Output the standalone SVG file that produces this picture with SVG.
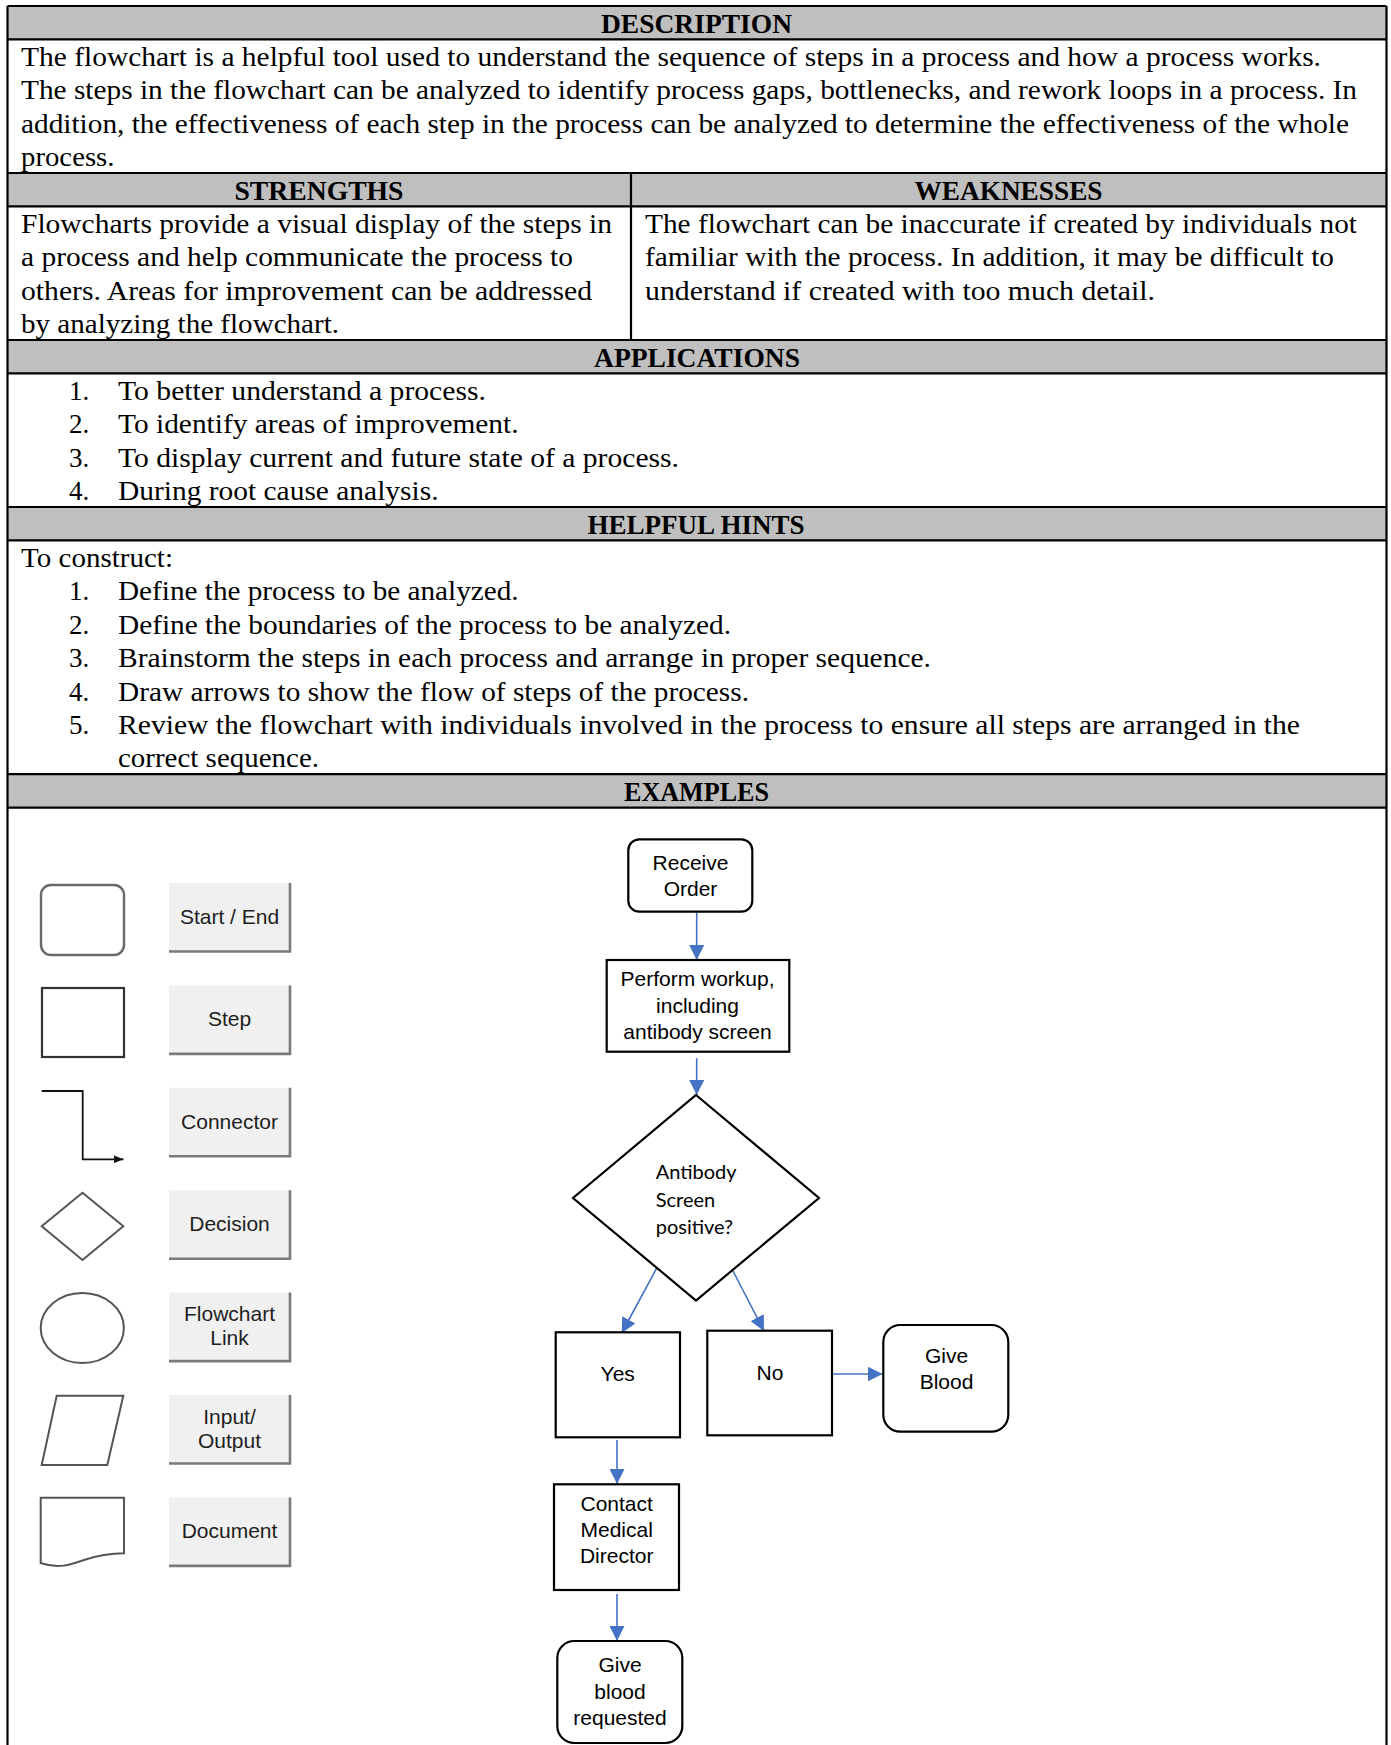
<svg xmlns="http://www.w3.org/2000/svg" width="1391" height="1745" viewBox="0 0 1391 1745">
<style>
.hdr{fill:#BFBFBF}
.ln{stroke:#000;stroke-width:2.2;fill:none}
.b{font-family:"Liberation Serif","Times New Roman",serif;font-size:27px;fill:#000}
.h{font-family:"Liberation Serif","Times New Roman",serif;font-size:27px;font-weight:bold;text-anchor:middle;fill:#000}
.fc{font-family:"Liberation Sans",Arial,sans-serif;font-size:21px;text-anchor:middle;fill:#000}
.dt{font-family:Lato,"Open Sans",sans-serif;font-size:20px;fill:#000}
.lg{font-family:"Liberation Sans",Arial,sans-serif;font-size:21px;text-anchor:middle;fill:#1e1e1e}
.node{fill:#fff;stroke:#000;stroke-width:2.2}
.conn{stroke:#4472C4;stroke-width:1.6;fill:none;marker-end:url(#ah)}
.btn{fill:#F0F0F0}
.btnsh{fill:none;stroke:#7A7A7A;stroke-width:2.6}
.sym{fill:#fff;stroke:#555;stroke-width:2}
</style>
<defs>
<marker id="ah" viewBox="0 0 15 15" refX="15" refY="7.5" markerWidth="15" markerHeight="15" markerUnits="userSpaceOnUse" orient="auto"><path d="M0,0 L15,7.5 L0,15 z" fill="#4472C4"/></marker>
<marker id="ahk" viewBox="0 0 10 8" refX="10" refY="4" markerWidth="10" markerHeight="8" markerUnits="userSpaceOnUse" orient="auto"><path d="M0,0 L10,4 L0,8 z" fill="#111"/></marker>
</defs>
<rect x="0" y="0" width="1391" height="1745" fill="#fff"/>

<g id="table">
<rect class="hdr" x="7.5" y="6" width="1379" height="33.4"/>
<rect class="hdr" x="7.5" y="173" width="1379" height="33.4"/>
<rect class="hdr" x="7.5" y="340" width="1379" height="33.4"/>
<rect class="hdr" x="7.5" y="507" width="1379" height="33.4"/>
<rect class="hdr" x="7.5" y="774.2" width="1379" height="33.4"/>
<path class="ln" d="M7.5,6 H1386.5 M7.5,39.4 H1386.5 M7.5,173 H1386.5 M7.5,206.4 H1386.5 M7.5,340 H1386.5 M7.5,373.4 H1386.5 M7.5,507 H1386.5 M7.5,540.4 H1386.5 M7.5,774.2 H1386.5 M7.5,807.6 H1386.5 M7.5,6 V1745 M1386.5,6 V1745 M631,173 V340"/>
</g>

<g id="description">
<text class="h" x="696.5" y="32.5" textLength="191" lengthAdjust="spacingAndGlyphs">DESCRIPTION</text>
<text class="b" x="21" y="65.9" textLength="1300" lengthAdjust="spacingAndGlyphs">The flowchart is a helpful tool used to understand the sequence of steps in a process and how a process works.</text>
<text class="b" x="21" y="99.3" textLength="1336" lengthAdjust="spacingAndGlyphs">The steps in the flowchart can be analyzed to identify process gaps, bottlenecks, and rework loops in a process. In</text>
<text class="b" x="21" y="132.7" textLength="1328" lengthAdjust="spacingAndGlyphs">addition, the effectiveness of each step in the process can be analyzed to determine the effectiveness of the whole</text>
<text class="b" x="21" y="166.1" textLength="93.5" lengthAdjust="spacingAndGlyphs">process.</text>
</g>

<g id="strengths">
<text class="h" x="319" y="199.5" textLength="169" lengthAdjust="spacingAndGlyphs">STRENGTHS</text>
<text class="b" x="21" y="232.9" textLength="591" lengthAdjust="spacingAndGlyphs">Flowcharts provide a visual display of the steps in</text>
<text class="b" x="21" y="266.3" textLength="552" lengthAdjust="spacingAndGlyphs">a process and help communicate the process to</text>
<text class="b" x="21" y="299.7" textLength="571" lengthAdjust="spacingAndGlyphs">others. Areas for improvement can be addressed</text>
<text class="b" x="21" y="333.1" textLength="318" lengthAdjust="spacingAndGlyphs">by analyzing the flowchart.</text>
</g>

<g id="weaknesses">
<text class="h" x="1008.5" y="199.5" textLength="188" lengthAdjust="spacingAndGlyphs">WEAKNESSES</text>
<text class="b" x="645" y="232.9" textLength="712" lengthAdjust="spacingAndGlyphs">The flowchart can be inaccurate if created by individuals not</text>
<text class="b" x="645" y="266.3" textLength="689" lengthAdjust="spacingAndGlyphs">familiar with the process. In addition, it may be difficult to</text>
<text class="b" x="645" y="299.7" textLength="510" lengthAdjust="spacingAndGlyphs">understand if created with too much detail.</text>
</g>

<g id="applications">
<text class="h" x="697" y="366.5" textLength="206" lengthAdjust="spacingAndGlyphs">APPLICATIONS</text>
<text class="b" x="69" y="399.9">1.</text>
<text class="b" x="118" y="399.9" textLength="368" lengthAdjust="spacingAndGlyphs">To better understand a process.</text>
<text class="b" x="69" y="433.3">2.</text>
<text class="b" x="118" y="433.3" textLength="400.6" lengthAdjust="spacingAndGlyphs">To identify areas of improvement.</text>
<text class="b" x="69" y="466.7">3.</text>
<text class="b" x="118" y="466.7" textLength="561" lengthAdjust="spacingAndGlyphs">To display current and future state of a process.</text>
<text class="b" x="69" y="500.1">4.</text>
<text class="b" x="118" y="500.1" textLength="320.5" lengthAdjust="spacingAndGlyphs">During root cause analysis.</text>
</g>

<g id="hints">
<text class="h" x="696" y="533.5" textLength="217" lengthAdjust="spacingAndGlyphs">HELPFUL HINTS</text>
<text class="b" x="21" y="566.9" textLength="152" lengthAdjust="spacingAndGlyphs">To construct:</text>
<text class="b" x="69" y="600.3">1.</text>
<text class="b" x="118" y="600.3" textLength="400.6" lengthAdjust="spacingAndGlyphs">Define the process to be analyzed.</text>
<text class="b" x="69" y="633.7">2.</text>
<text class="b" x="118" y="633.7" textLength="613" lengthAdjust="spacingAndGlyphs">Define the boundaries of the process to be analyzed.</text>
<text class="b" x="69" y="667.1">3.</text>
<text class="b" x="118" y="667.1" textLength="813" lengthAdjust="spacingAndGlyphs">Brainstorm the steps in each process and arrange in proper sequence.</text>
<text class="b" x="69" y="700.5">4.</text>
<text class="b" x="118" y="700.5" textLength="631" lengthAdjust="spacingAndGlyphs">Draw arrows to show the flow of steps of the process.</text>
<text class="b" x="69" y="733.9">5.</text>
<text class="b" x="118" y="733.9" textLength="1182" lengthAdjust="spacingAndGlyphs">Review the flowchart with individuals involved in the process to ensure all steps are arranged in the</text>
<text class="b" x="118" y="767.3" textLength="201" lengthAdjust="spacingAndGlyphs">correct sequence.</text>
</g>

<g id="examples-header">
<text class="h" x="696.5" y="800.7" textLength="145" lengthAdjust="spacingAndGlyphs">EXAMPLES</text>
</g>

<g id="legend-start-end">
<rect x="41" y="885" width="83" height="70" rx="10" fill="#fff" stroke="#6a6a6a" stroke-width="2.4"/>
<rect class="btn" x="169" y="883" width="121" height="68.5"/>
<polyline class="btnsh" points="290,883 290,951.5 169,951.5"/>
<text class="lg" x="229.5" y="924">Start / End</text>
</g>
<g id="legend-step">
<rect x="42" y="988" width="82" height="69" fill="#fff" stroke="#333" stroke-width="2.2"/>
<rect class="btn" x="169" y="985.4" width="121" height="68.5"/>
<polyline class="btnsh" points="290,985.4 290,1053.9 169,1053.9"/>
<text class="lg" x="229.5" y="1026.4">Step</text>
</g>
<g id="legend-connector">
<polyline points="41.7,1091 82.7,1091 82.7,1159.3 123.5,1159.3" fill="none" stroke="#111" stroke-width="1.8" marker-end="url(#ahk)"/>
<rect class="btn" x="169" y="1087.8" width="121" height="68.5"/>
<polyline class="btnsh" points="290,1087.8 290,1156.3 169,1156.3"/>
<text class="lg" x="229.5" y="1128.8">Connector</text>
</g>
<g id="legend-decision">
<polygon class="sym" points="82.5,1192.7 123.3,1226.3 82.5,1260 41.7,1226.3" stroke-width="1.6"/>
<rect class="btn" x="169" y="1190.2" width="121" height="68.5"/>
<polyline class="btnsh" points="290,1190.2 290,1258.7 169,1258.7"/>
<text class="lg" x="229.5" y="1231.2">Decision</text>
</g>
<g id="legend-link">
<ellipse class="sym" cx="82.3" cy="1328" rx="41.6" ry="35" stroke="#444" stroke-width="1.6"/>
<rect class="btn" x="169" y="1292.6" width="121" height="68.5"/>
<polyline class="btnsh" points="290,1292.6 290,1361.1 169,1361.1"/>
<text class="lg" x="229.5" y="1321">Flowchart</text>
<text class="lg" x="229.5" y="1345">Link</text>
</g>
<g id="legend-io">
<polygon class="sym" points="56.7,1395.7 123.3,1395.7 107.3,1465 41.7,1465"/>
<rect class="btn" x="169" y="1395" width="121" height="68.5"/>
<polyline class="btnsh" points="290,1395 290,1463.5 169,1463.5"/>
<text class="lg" x="229.5" y="1423.5">Input/</text>
<text class="lg" x="229.5" y="1447.5">Output</text>
</g>
<g id="legend-document">
<path class="sym" d="M40.7,1497.7 H124 V1553.3 C108,1553.3 96,1556 84,1560 C70,1565 58,1569 40.7,1563 Z"/>
<rect class="btn" x="169" y="1497.4" width="121" height="68.5"/>
<polyline class="btnsh" points="290,1497.4 290,1565.9 169,1565.9"/>
<text class="lg" x="229.5" y="1538">Document</text>
</g>

<g id="connectors">
<line class="conn" x1="696.7" y1="912.7" x2="696.7" y2="960"/>
<line class="conn" x1="696.7" y1="1058.3" x2="696.7" y2="1095"/>
<line class="conn" x1="656.5" y1="1268.5" x2="621.7" y2="1333"/>
<line class="conn" x1="733" y1="1271" x2="764" y2="1331"/>
<line class="conn" x1="833.3" y1="1374" x2="882.5" y2="1374"/>
<line class="conn" x1="617" y1="1440" x2="617" y2="1484"/>
<line class="conn" x1="617" y1="1594" x2="617" y2="1641"/>
</g>

<g id="receive-order">
<rect class="node" x="628.3" y="839.3" width="124" height="72.4" rx="11"/>
<text class="fc" x="690.5" y="870">Receive</text>
<text class="fc" x="690.5" y="896">Order</text>
</g>
<g id="perform-workup">
<rect class="node" x="606.7" y="960" width="182.6" height="91.7"/>
<text class="fc" x="697.5" y="986">Perform workup,</text>
<text class="fc" x="697.5" y="1012.5">including</text>
<text class="fc" x="697.5" y="1038.5">antibody screen</text>
</g>
<g id="antibody-decision">
<polygon class="node" points="696,1095 819,1198 696,1300.5 573,1198"/>
<text class="dt" x="655.7" y="1179.3">Antibody</text>
<text class="dt" x="655.7" y="1206.7">Screen</text>
<text class="dt" x="655.7" y="1234">positive?</text>
</g>
<g id="yes">
<rect class="node" x="555.7" y="1332.3" width="124.3" height="105"/>
<text class="fc" x="617.7" y="1380.7">Yes</text>
</g>
<g id="no">
<rect class="node" x="707.3" y="1330.7" width="124.7" height="104.6"/>
<text class="fc" x="770" y="1380">No</text>
</g>
<g id="give-blood">
<rect class="node" x="883.3" y="1325" width="125" height="106.7" rx="17"/>
<text class="fc" x="946.5" y="1362.7">Give</text>
<text class="fc" x="946.5" y="1388.7">Blood</text>
</g>
<g id="contact-director">
<rect class="node" x="554" y="1484.3" width="125" height="105.7"/>
<text class="fc" x="616.7" y="1511">Contact</text>
<text class="fc" x="616.7" y="1537.3">Medical</text>
<text class="fc" x="616.7" y="1563.3">Director</text>
</g>
<g id="give-blood-requested">
<rect class="node" x="557.3" y="1641" width="125" height="102" rx="17"/>
<text class="fc" x="620" y="1672.3">Give</text>
<text class="fc" x="620" y="1699">blood</text>
<text class="fc" x="620" y="1725">requested</text>
</g>
</svg>
